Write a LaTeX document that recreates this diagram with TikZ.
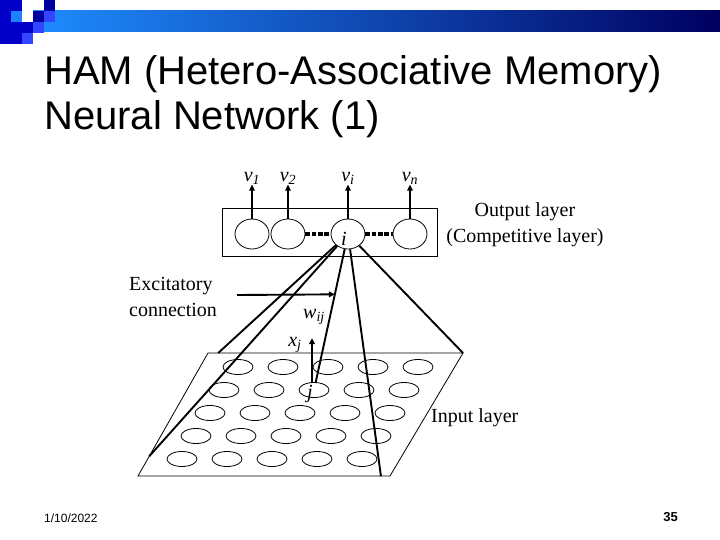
\documentclass[tikz,border=0pt]{standalone}
\usepackage{fontspec}
\setmainfont{Liberation Serif}
\setsansfont{Liberation Sans}
\usetikzlibrary{calc, shapes.geometric, arrows.meta}

\newcommand{\subvar}[2]{\textit{#1}\textsubscript{\textit{#2}}}

\tikzset{
    neuron/.style={draw, ellipse, line width=0.8bp, minimum width=34bp, minimum height=30bp, inner sep=0pt},
    cell/.style={draw, ellipse, line width=0.8bp, minimum width=30bp, minimum height=15bp, inner sep=0pt},
    link/.style={line width=1.9bp},
    signal/.style={line width=1.9bp, -{Triangle[length=6bp,width=5.5bp]}},
    dotlink/.style={line width=4bp, dash pattern=on 4.5bp off 1.8bp},
    txt/.style={font=\fontsize{20bp}{26bp}\selectfont, inner sep=0pt},
}

\begin{document}
\begin{tikzpicture}[x=1bp, y=-1bp]
    % Define colours
    \definecolor{barLeft}{HTML}{1E8CFF}
    \definecolor{barRight}{HTML}{000060}
    \definecolor{logoDark}{HTML}{0000C8}
    \definecolor{logoLight}{HTML}{1E82FF}
    \definecolor{logoMid}{HTML}{3246FF}
    \definecolor{logoNavy}{HTML}{0000A0}

    % Fix the page size
    \useasboundingbox (0,0) rectangle (720,540);

    % Draw header bar and corner squares
    \shade[left color=barLeft, right color=barRight] (33,11) rectangle (720,32);
    \foreach \x/\y/\w/\h/\col in {0/0/22/44/logoDark, 11/11/11/11/logoLight,
        22/22/11/11/logoDark, 22/33/11/11/logoMid, 33/11/11/11/logoNavy,
        33/22/11/11/logoMid, 44/0/11/11/logoNavy, 44/11/11/11/logoMid}
        \fill[\col] (\x,\y) rectangle ++(\w,\h);

    % Title
    \node[anchor=base west, inner sep=0pt, font=\sffamily\fontsize{40bp}{44bp}\selectfont] (title1) at (44,85) {HAM (Hetero-Associative Memory)};
    \node[anchor=base west, inner sep=0pt, font=\sffamily\fontsize{40bp}{44bp}\selectfont] (title2) at (44,130) {Neural Network (1)};

    % Output layer box and neurons
    \draw[line width=1bp] (222,209) rectangle (437,257);
    \node[neuron] (o1) at (252,234) {};
    \node[neuron] (o2) at (288,234) {};
    \node[neuron] (oi) at (348,234) {};
    \node[neuron] (oN) at (410,234) {};
    \node[txt] (li) at (344,239) {\textit{i}};
    \draw[dotlink] (o2) -- (oi);
    \draw[dotlink] (oi) -- (oN);

    % Outputs with their labels
    \foreach \n/\v in {o1/1, o2/2, oi/i, oN/n} {
        \coordinate (t\n) at ($(\n.north)+(0,-34)$);
        \draw[signal] (\n.north) -- (t\n);
        \node[txt, anchor=base] (lv\n) at ([yshift=3bp]t\n) {\subvar{v}{\v}};
    }
    \node[txt, align=center] (outtxt) at (525,225) {Output layer\\(Competitive layer)};

    % Corners of the input plane
    \coordinate (pTL) at (208,353);
    \coordinate (pTR) at (463,353);
    \coordinate (pBR) at (390,476);
    \coordinate (pBL) at (138,476);
    \draw[line width=0.8bp] (pTL) -- (pTR) -- (pBR) -- (pBL) -- cycle;

    % Input neurons, 5 rows of 5
    \foreach \r in {1,...,5}
        \foreach \c in {1,...,5}
            \node[cell] (in-\r-\c) at ({238+45*(\c-1)-14*(\r-1)}, {367+23*(\r-1)}) {};
    \node[txt] (lj) at (310,394) {\textit{j}};
    \node[txt, anchor=west] (intxt) at (431,418) {Input layer};

    % Connections from neuron i to the input plane
    \coordinate (e1) at ($(pTL)!0.04!(pTR)$);
    \coordinate (e2) at ($(pTL)!0.84!(pBL)$);
    \coordinate (e4) at ($(pBL)!0.964!(pBR)$);
    \draw[link] (oi) -- (e1);
    \draw[link] (oi) -- (e2);
    \draw[link] (oi) -- coordinate[pos=0.34] (hit) (in-2-3);
    \draw[link] (oi) -- (e4);
    \draw[link] (oi) -- (pTR);

    % Input x_j and weight w_ij
    \coordinate (xtip) at ($(in-2-3.north)+(-2,-44)$);
    \draw[signal] (in-2-3.north -| xtip) -- (xtip);
    \node[txt, anchor=base] (lxj) at (295,346) {\subvar{x}{j}};
    \node[txt, anchor=base] (lwij) at (314,318) {\subvar{w}{ij}};

    % Excitatory connection pointer
    \node[txt, align=left, anchor=west] (exctxt) at (129,297) {Excitatory\\connection};
    \coordinate (excStart) at (237,295);
    \draw[signal] (excStart) -- (hit);

    % Footer
    \node[anchor=base west, inner sep=0pt, font=\sffamily\fontsize{12bp}{14bp}\selectfont] (date) at (44,522) {1/10/2022};
    \node[anchor=base east, inner sep=0pt, font=\sffamily\bfseries\fontsize{13bp}{15bp}\selectfont] (page) at (678,521) {35};
\end{tikzpicture}
\end{document}
